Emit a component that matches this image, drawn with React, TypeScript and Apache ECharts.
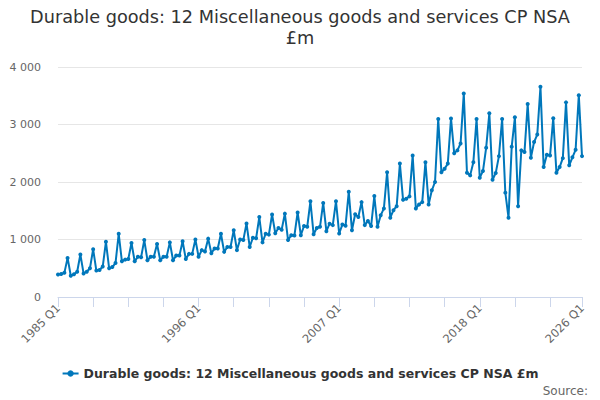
import React, { useEffect, useRef } from "react";
import * as echarts from "echarts";

const TITLE = "Durable goods: 12 Miscellaneous goods and services CP NSA\n£m";
const SERIES_NAME = "Durable goods: 12 Miscellaneous goods and services CP NSA £m";
const FIRST_YEAR = 1985;
const LAST_YEAR = 2026;
const LAST_QUARTER = 1;

// Quarterly values, £m (1985 Q1 ... 2026 Q1)
const values1985to1995 = [
  390, 400, 420, 680,
  370, 395, 440, 740,
  410, 440, 500, 830,
  460, 470, 530, 960,
  500, 520, 590, 1100,
  620, 650, 660, 940,
  620, 700, 690, 990,
  640, 700, 700, 920,
  640, 700, 700, 950,
  640, 720, 720, 970,
  660, 750, 750, 1000,
];
const values1996to2006 = [
  700, 815, 790, 1015,
  760, 845, 845, 1100,
  785, 870, 870, 1160,
  815, 1000, 990, 1280,
  870, 1030, 1020, 1390,
  950, 1100, 1085, 1435,
  1110, 1200, 1170, 1450,
  990, 1075, 1070, 1470,
  1075, 1235, 1220, 1665,
  1090, 1200, 1220, 1635,
  1145, 1275, 1250, 1665,
];
const values2007to2017 = [
  1105, 1260, 1240, 1830,
  1160, 1440, 1390, 1650,
  1250, 1320, 1235, 1755,
  1220, 1420, 1540, 2170,
  1380, 1510, 1580, 2320,
  1690, 1710, 1750, 2460,
  1540, 1610, 1650, 2345,
  1610, 1855, 2000, 3095,
  2170, 2230, 2320, 3105,
  2500, 2550, 2670, 3540,
  2160, 2115, 2345, 3095,
];
const values2018to2026 = [
  2075, 2190, 2595, 3195,
  2040, 2155, 2450, 3095,
  1815, 1380, 2615, 3125,
  1580, 2550, 2520, 3355,
  2420, 2695, 2825, 3655,
  2260, 2475, 2460, 3110,
  2160, 2260, 2415, 3385,
  2290, 2430, 2560, 3510,
  2450,
];
const values = [...values1985to1995, ...values1996to2006, ...values2007to2017, ...values2018to2026];

const yTicks = [0, 1000, 2000, 3000, 4000];

const categories: string[] = [];
for (let y = FIRST_YEAR; y <= LAST_YEAR; y++) {
  for (let q = 1; q <= 4; q++) {
    if (y === LAST_YEAR && q > LAST_QUARTER) break;
    categories.push(`${y} Q${q}`);
  }
}

const FONT = "DejaVu Sans";

export default function App() {
  const ref = useRef<HTMLDivElement>(null);
  useEffect(() => {
    document.body.style.margin = "0";
    if (!ref.current) return;
    const chart = echarts.init(ref.current, null, { renderer: "svg" });
    const lastIdx = categories.length - 1;
    chart.setOption({
      animation: false,
      backgroundColor: "#ffffff",
      textStyle: { fontFamily: FONT },
      title: {
        text: TITLE,
        left: "center",
        top: 1,
        textStyle: { fontFamily: FONT, fontSize: 17.7, fontWeight: "normal", color: "#333333", lineHeight: 21 },
      },
      grid: { left: 58, right: 18, top: 67, bottom: 103 },
      legend: {
        bottom: 15,
        left: "center",
        itemWidth: 16,
        itemHeight: 8,
        itemGap: 6,
        textStyle: { fontFamily: FONT, fontSize: 12.5, fontWeight: "bold", color: "#333333" },
        data: [SERIES_NAME],
      },
      xAxis: {
        type: "category",
        data: categories,
        boundaryGap: false,
        axisLine: { lineStyle: { color: "#ccd6eb", width: 1 } },
        axisTick: {
          length: 10,
          lineStyle: { color: "#ccd6eb" },
          interval: (i: number) => i % 11 === 0 || i === lastIdx,
        },
        axisLabel: {
          rotate: 45,
          margin: 9,
          color: "#666666",
          fontFamily: FONT,
          fontSize: 11.5,
          interval: (i: number) => i % 44 === 0 || i === lastIdx,
        },
        splitLine: { show: false },
      },
      yAxis: {
        type: "value",
        min: yTicks[0],
        max: yTicks[yTicks.length - 1],
        interval: 1000,
        axisLine: { show: false },
        axisTick: { show: false },
        axisLabel: {
          margin: 17,
          color: "#666666",
          fontFamily: FONT,
          fontSize: 11,
          formatter: (v: number) => String(v).replace(/\B(?=(\d{3})+(?!\d))/g, " "),
        },
        splitLine: { lineStyle: { color: "#e6e6e6", width: 1 } },
      },
      series: [
        {
          name: SERIES_NAME,
          type: "line",
          data: values,
          color: "#0077bb",
          lineStyle: { width: 2, color: "#0077bb" },
          symbol: "circle",
          symbolSize: 4,
          showSymbol: true,
          showAllSymbol: true,
          itemStyle: { color: "#0077bb" },
        },
      ],
      graphic: [
        {
          type: "text",
          right: 12,
          top: 385,
          style: { text: "Source:", fontFamily: FONT, fontSize: 12, fill: "#666666" },
        },
      ],
    });
    return () => chart.dispose();
  }, []);
  return <div ref={ref} style={{ width: 600, height: 400 }} />;
}
